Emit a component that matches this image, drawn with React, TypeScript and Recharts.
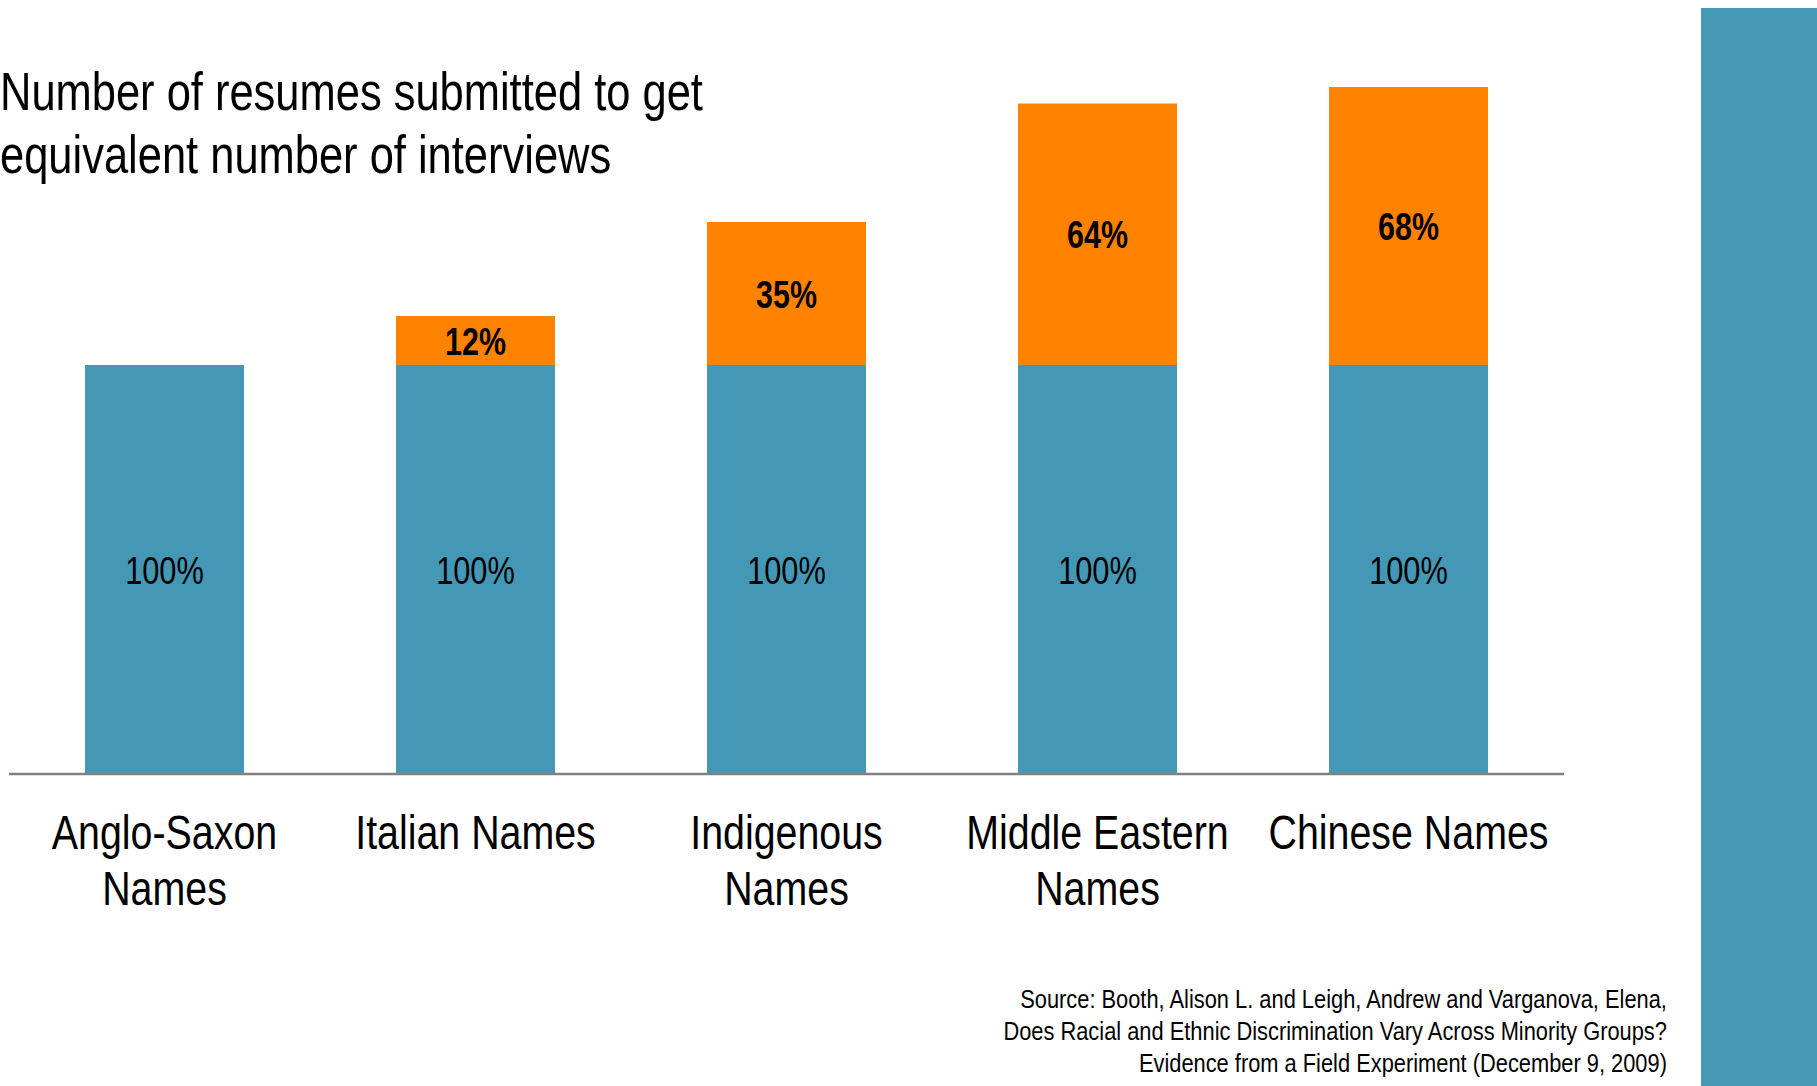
import React from "react";
import { BarChart, Bar, XAxis, YAxis, LabelList } from "recharts";

const categories = ["Anglo-Saxon Names", "Italian Names", "Indigenous Names", "Middle Eastern Names", "Chinese Names"];
const tickLines = [["Anglo-Saxon", "Names"], ["Italian Names"], ["Indigenous", "Names"], ["Middle Eastern", "Names"], ["Chinese Names"]];
const baseValues = [100, 100, 100, 100, 100];
const extraValues = [null, 12, 35, 64, 68];

const titleLines = ["Number of resumes submitted to get", "equivalent number of interviews"];
const sourceLines = [
  "Source: Booth, Alison L. and Leigh, Andrew and Varganova, Elena,",
  "Does Racial and Ethnic Discrimination Vary Across Minority Groups?",
  "Evidence from a Field Experiment (December 9, 2009)",
];

const data = categories.map((c, i) => ({
  name: c,
  base: baseValues[i],
  extra: extraValues[i],
}));

const BLUE = "#4498B5";
const ORANGE = "#FF8200";
const FONT = "'Liberation Sans', Arial, sans-serif";

const Tick = (props: any) => {
  const { x, y, index } = props;
  const lines = tickLines[index] || [];
  return (
    <g>
      {lines.map((l: string, i: number) => (
        <text
          key={i}
          transform={`translate(${x},${y + 67 + i * 56}) scale(0.82,1)`}
          textAnchor="middle"
          fontFamily={FONT}
          fontSize={48}
          fill="#000"
        >
          {l}
        </text>
      ))}
    </g>
  );
};

const makeLabel = (bold: boolean) => (props: any) => {
  const { x, y, width, height, value } = props;
  if (value == null || value === "") return null;
  const cx = Number(x) + Number(width) / 2;
  const cy = Number(y) + Number(height) / 2 + 14;
  return (
    <text
      transform={`translate(${cx},${cy}) scale(${bold ? 0.8 : 0.81},1)`}
      textAnchor="middle"
      fontFamily={FONT}
      fontSize={38}
      fontWeight={bold ? "bold" : "normal"}
      fill="#000"
    >
      {`${value}%`}
    </text>
  );
};

export default function App() {
  return (
    <div style={{ position: "absolute", left: 0, top: 0, width: 1817, height: 1086, background: "#fff", overflow: "hidden" }}>
      <div style={{ position: "absolute", left: 1701, top: 8, width: 116, height: 1078, background: BLUE }} />
      <div
        style={{
          position: "absolute",
          left: 0,
          top: 60,
          fontFamily: FONT,
          fontSize: 53,
          lineHeight: "63px",
          color: "#000",
          whiteSpace: "nowrap",
          transform: "scaleX(0.82)",
          transformOrigin: "left top",
        }}
      >
        {titleLines.map((t, i) => (
          <div key={i}>{t}</div>
        ))}
      </div>
      <div
        style={{
          position: "absolute",
          right: 1817 - 1667,
          top: 983,
          fontFamily: FONT,
          fontSize: 26,
          lineHeight: "32px",
          color: "#000",
          textAlign: "right",
          whiteSpace: "nowrap",
          transform: "scaleX(0.84)",
          transformOrigin: "right top",
        }}
      >
        {sourceLines.map((t, i) => (
          <div key={i}>{t}</div>
        ))}
      </div>
      <div style={{ position: "absolute", left: 0, top: 0 }}>
        <BarChart
          width={1817}
          height={1086}
          data={data}
          margin={{ top: 38, right: 253, bottom: 212, left: 9 }}
          barSize={159}
        >
          <XAxis
            dataKey="name"
            height={100}
            interval={0}
            tickLine={false}
            axisLine={{ stroke: "#808080", strokeWidth: 2.5 }}
            tick={<Tick />}
          />
          <YAxis hide domain={[0, 180]} />
          <Bar dataKey="base" stackId="a" fill={BLUE} isAnimationActive={false}>
            <LabelList dataKey="base" content={makeLabel(false)} />
          </Bar>
          <Bar dataKey="extra" stackId="a" fill={ORANGE} isAnimationActive={false}>
            <LabelList dataKey="extra" content={makeLabel(true)} />
          </Bar>
        </BarChart>
      </div>
    </div>
  );
}
